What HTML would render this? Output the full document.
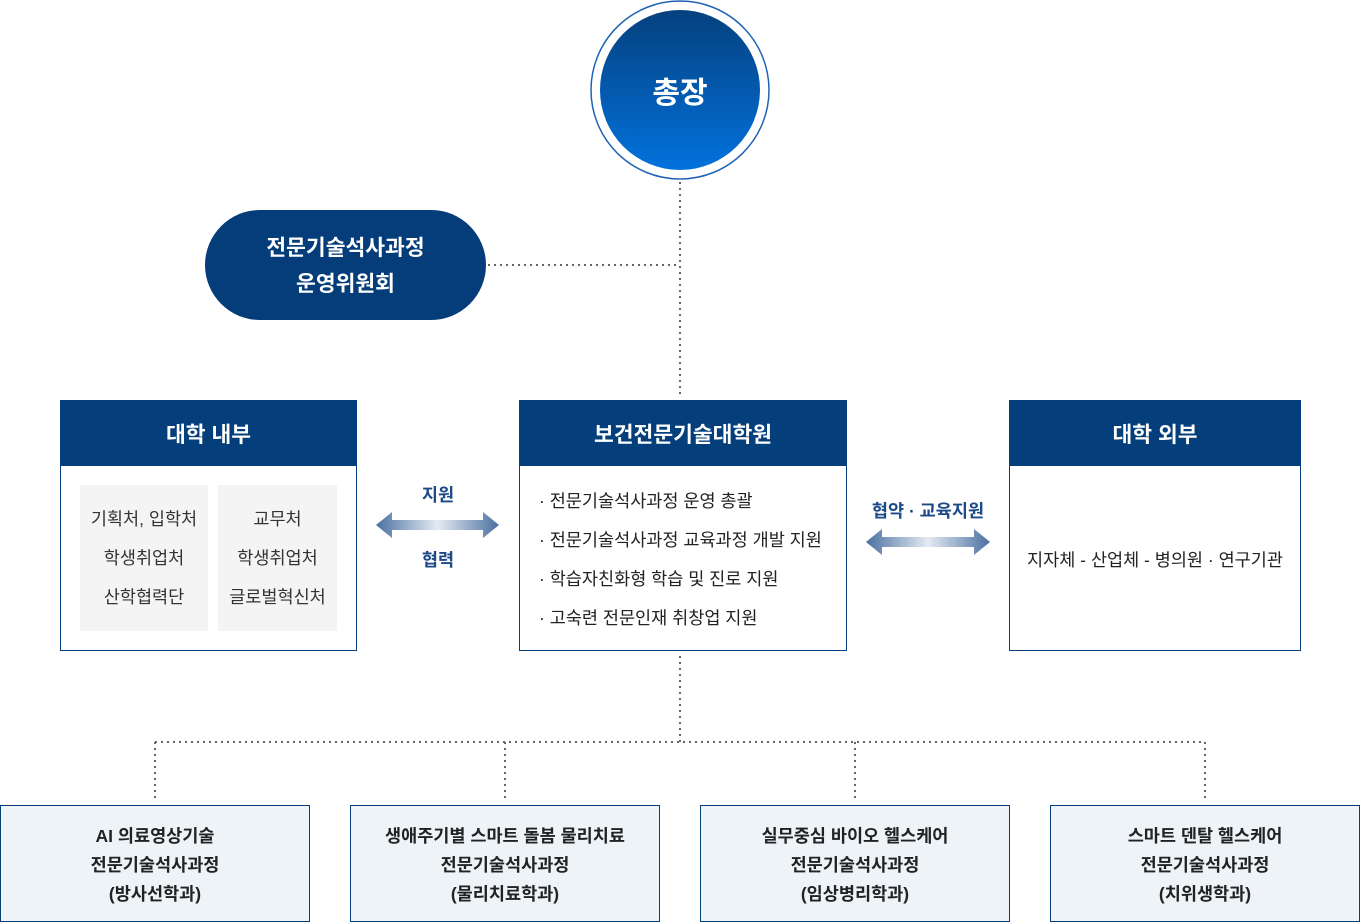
<!DOCTYPE html>
<html><head><meta charset="utf-8"><style>
*{margin:0;padding:0;box-sizing:border-box}
body{width:1360px;height:922px;background:#fff;position:relative;overflow:hidden;font-family:"Liberation Sans","Noto Sans CJK KR",sans-serif;color:#222}
.a{position:absolute}
.c{display:flex;align-items:center;justify-content:center;text-align:center}
.box{position:absolute;border:1px solid #043e7b;background:#fff}
.hd{position:absolute;left:-1px;right:-1px;top:-1px;height:66px;background:#043e7b;color:#fff;font-size:21.5px;font-weight:bold;display:flex;align-items:center;justify-content:center}
.gray{position:absolute;background:#f4f4f4;font-size:17.5px;line-height:39px;text-align:center;display:flex;flex-direction:column;justify-content:center;color:#333}
.bot{position:absolute;top:805px;width:310px;height:117px;background:#eef3f8;border:1px solid #043e7b;font-size:17.5px;font-weight:bold;line-height:29px;color:#222;display:flex;align-items:center;justify-content:center;text-align:center;padding-top:4px}
.lbl{position:absolute;color:#1c4a86;font-size:17.5px;font-weight:bold;text-align:center}
</style></head><body>
<svg class="a" style="left:0;top:0" width="1360" height="922">
<defs>
<linearGradient id="g" x1="0" y1="0" x2="0" y2="1"><stop offset="0" stop-color="#05407e"/><stop offset="1" stop-color="#0272dc"/></linearGradient>
<linearGradient id="ar" x1="0" y1="0" x2="1" y2="0"><stop offset="0" stop-color="#4a70a0"/><stop offset="0.5" stop-color="#e4ebf3"/><stop offset="1" stop-color="#4a70a0"/></linearGradient>
</defs>
<g stroke="#666" stroke-width="2" stroke-dasharray="2 4" fill="none">
<path d="M680 182V398"/><path d="M488 265H680"/><path d="M680 656V742"/><path d="M155 742H1205"/>
<path d="M155 742V800"/><path d="M505 742V800"/><path d="M855 742V800"/><path d="M1205 742V800"/>
</g>
<circle cx="680" cy="90" r="89" fill="#fff" stroke="#1f63b4" stroke-width="1.5"/>
<circle cx="680" cy="90" r="80" fill="url(#g)"/>
<rect x="205" y="210" width="281" height="110" rx="55" fill="#053d7a"/>
<path d="M376 525L392 512V520H483V512L499 525L483 538V530H392V538Z" fill="url(#ar)"/>
<path d="M866 542L882 529V537H974V529L990 542L974 555V547H882V555Z" fill="url(#ar)"/>
</svg>
<div class="a c" style="left:600px;top:60px;width:160px;height:60px;color:#fff;font-size:30px;font-weight:bold">총장</div>
<div class="a c" style="left:205px;top:211px;width:281px;height:110px;color:#fff;font-size:21.5px;font-weight:bold;line-height:36px">전문기술석사과정<br>운영위원회</div>

<div class="box" style="left:60px;top:400px;width:297px;height:251px"><div class="hd">대학 내부</div>
<div class="gray" style="left:19px;top:84px;width:128px;height:146px"><div>기획처, 입학처</div><div>학생취업처</div><div>산학협력단</div></div>
<div class="gray" style="left:157px;top:84px;width:119px;height:146px"><div>교무처</div><div>학생취업처</div><div>글로벌혁신처</div></div>
</div>
<div class="lbl" style="left:398px;top:482px;width:80px">지원</div>
<div class="lbl" style="left:398px;top:547px;width:80px">협력</div>

<div class="box" style="left:519px;top:400px;width:328px;height:251px"><div class="hd">보건전문기술대학원</div>
<div class="a" style="left:19px;top:81px;font-size:17.5px;line-height:39px;color:#222;white-space:nowrap">
<div>· 전문기술석사과정 운영 총괄</div><div>· 전문기술석사과정 교육과정 개발 지원</div><div>· 학습자친화형 학습 및 진로 지원</div><div>· 고숙련 전문인재 취창업 지원</div></div>
</div>
<div class="lbl" style="left:853px;top:498px;width:150px">협약 · 교육지원</div>

<div class="box" style="left:1009px;top:400px;width:292px;height:251px"><div class="hd">대학 외부</div>
<div class="a c" style="left:0;top:66px;width:290px;height:184px;font-size:17.5px;color:#222">지자체 - 산업체 - 병의원 · 연구기관</div>
</div>

<div class="bot" style="left:0">AI 의료영상기술<br>전문기술석사과정<br>(방사선학과)</div>
<div class="bot" style="left:350px">생애주기별 스마트 돌봄 물리치료<br>전문기술석사과정<br>(물리치료학과)</div>
<div class="bot" style="left:700px">실무중심 바이오 헬스케어<br>전문기술석사과정<br>(임상병리학과)</div>
<div class="bot" style="left:1050px">스마트 덴탈 헬스케어<br>전문기술석사과정<br>(치위생학과)</div>
</body></html>
